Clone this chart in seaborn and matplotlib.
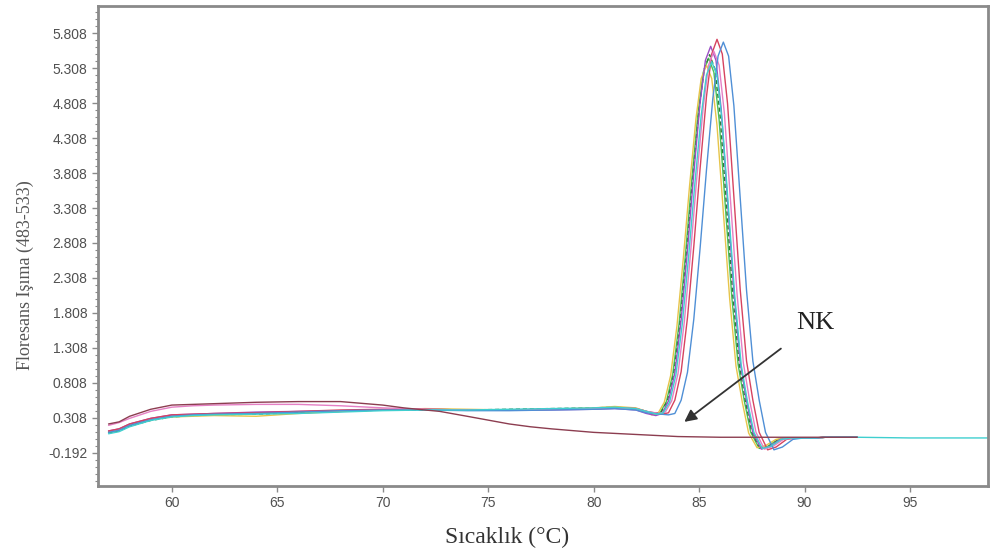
import matplotlib
matplotlib.use("Agg")
import matplotlib.pyplot as plt
from matplotlib.ticker import FixedLocator, AutoMinorLocator
import seaborn as sns
import pandas as pd

# ---------------- data ----------------
base_t = [57.0, 57.5, 58.0, 59.0, 60.0, 61.0, 62.0, 64.0, 66.0, 68.0, 70.0,
          72.0, 74.0, 76.0, 78.0, 80.0, 81.0, 82.0, 82.5]
tail_t = [90.5, 91.0, 92.0, 92.5]
tail_v = [0.02, 0.03, 0.03, 0.03]
tail_t_long = [90.5, 91.0, 92.0, 92.5, 95.0, 98.7]
tail_v_long = [0.02, 0.03, 0.03, 0.03, 0.02, 0.02]

s1_base = [0.10, 0.13, 0.20, 0.28, 0.33, 0.35, 0.36, 0.37, 0.38, 0.40, 0.42, 0.43, 0.42, 0.42, 0.43, 0.44, 0.45, 0.44, 0.40]
s1_pt = [82.85, 83.15, 83.45, 83.75, 84.05, 84.35, 84.65, 84.95, 85.2, 85.45, 85.7, 85.95, 86.25, 86.55, 86.85, 87.15, 87.45, 87.85, 88.25, 88.75, 89.25]
s1_pv = [0.36, 0.38, 0.54, 0.93, 1.65, 2.63, 3.70, 4.67, 5.25, 5.45, 5.25, 4.57, 3.31, 2.04, 1.07, 0.54, 0.10, -0.13, -0.10, 0.0, 0.02]

s2_base = [0.09, 0.12, 0.19, 0.27, 0.32, 0.34, 0.35, 0.36, 0.38, 0.40, 0.42, 0.42, 0.42, 0.43, 0.44, 0.45, 0.46, 0.44, 0.40]
s2_pt = [82.9, 83.2, 83.5, 83.8, 84.1, 84.4, 84.7, 85.0, 85.25, 85.5, 85.75, 86.0, 86.3, 86.6, 86.9, 87.2, 87.5, 87.9, 88.3, 88.8, 89.3]
s2_pv = [0.37, 0.39, 0.55, 0.94, 1.67, 2.65, 3.73, 4.71, 5.30, 5.50, 5.30, 4.62, 3.34, 2.06, 1.08, 0.54, 0.10, -0.14, -0.10, 0.0, 0.02]

s3_base = [0.11, 0.14, 0.21, 0.28, 0.32, 0.33, 0.34, 0.33, 0.37, 0.40, 0.42, 0.44, 0.43, 0.42, 0.43, 0.45, 0.47, 0.45, 0.40]
s3_pt = [82.75, 83.05, 83.35, 83.65, 83.95, 84.25, 84.55, 84.85, 85.1, 85.35, 85.6, 85.85, 86.15, 86.45, 86.75, 87.05, 87.35, 87.75, 88.15, 88.65, 89.15]
s3_pv = [0.35, 0.37, 0.53, 0.91, 1.62, 2.58, 3.63, 4.58, 5.16, 5.35, 5.16, 4.49, 3.25, 2.01, 1.05, 0.53, 0.09, -0.12, -0.09, 0.0, 0.02]

s4_base = [0.12, 0.15, 0.22, 0.30, 0.35, 0.36, 0.37, 0.39, 0.40, 0.41, 0.42, 0.43, 0.42, 0.42, 0.42, 0.43, 0.44, 0.42, 0.37]
s4_pt = [82.95, 83.25, 83.55, 83.85, 84.15, 84.45, 84.75, 85.05, 85.3, 85.55, 85.8, 86.05, 86.35, 86.65, 86.95, 87.25, 87.55, 87.95, 88.35, 88.85, 89.35]
s4_pv = [0.34, 0.37, 0.55, 0.95, 1.71, 2.71, 3.81, 4.82, 5.42, 5.62, 5.42, 4.72, 3.41, 2.11, 1.10, 0.55, 0.10, -0.14, -0.10, 0.0, 0.02]

s5_base = [0.12, 0.15, 0.22, 0.30, 0.35, 0.36, 0.37, 0.38, 0.40, 0.42, 0.43, 0.43, 0.42, 0.42, 0.43, 0.44, 0.45, 0.44, 0.40]
s5_pt = [83.25, 83.55, 83.85, 84.15, 84.45, 84.75, 85.05, 85.35, 85.6, 85.85, 86.1, 86.35, 86.65, 86.95, 87.25, 87.55, 87.85, 88.25, 88.65, 89.15, 89.65]
s5_pv = [0.36, 0.38, 0.56, 0.97, 1.74, 2.76, 3.88, 4.90, 5.51, 5.72, 5.51, 4.80, 3.47, 2.14, 1.12, 0.56, 0.10, -0.15, -0.11, 0.0, 0.02]

s6_base = [0.20, 0.24, 0.30, 0.40, 0.46, 0.48, 0.49, 0.50, 0.50, 0.48, 0.45, 0.43, 0.42, 0.42, 0.43, 0.44, 0.45, 0.44, 0.40]
s6_pt = [83.1, 83.4, 83.7, 84.0, 84.3, 84.6, 84.9, 85.2, 85.45, 85.7, 85.95, 86.2, 86.5, 86.8, 87.1, 87.4, 87.7, 88.1, 88.5, 89.0, 89.5]
s6_pv = [0.37, 0.39, 0.55, 0.94, 1.68, 2.68, 3.77, 4.76, 5.35, 5.55, 5.35, 4.66, 3.37, 2.08, 1.09, 0.55, 0.10, -0.14, -0.10, 0.0, 0.02]

s7_base = [0.10, 0.13, 0.20, 0.28, 0.33, 0.35, 0.36, 0.37, 0.39, 0.41, 0.42, 0.42, 0.41, 0.41, 0.42, 0.43, 0.44, 0.42, 0.38]
s7_pt = [83.55, 83.85, 84.15, 84.45, 84.75, 85.05, 85.35, 85.65, 85.9, 86.15, 86.4, 86.65, 86.95, 87.25, 87.55, 87.85, 88.15, 88.55, 88.95, 89.45, 89.95]
s7_pv = [0.35, 0.37, 0.56, 0.96, 1.72, 2.74, 3.85, 4.87, 5.48, 5.68, 5.48, 4.77, 3.45, 2.13, 1.12, 0.56, 0.10, -0.15, -0.11, 0.0, 0.02]

s8_base = [0.08, 0.11, 0.18, 0.27, 0.32, 0.34, 0.35, 0.36, 0.37, 0.39, 0.41, 0.42, 0.42, 0.43, 0.44, 0.45, 0.46, 0.44, 0.40]
s8_pt = [83.0, 83.3, 83.6, 83.9, 84.2, 84.5, 84.8, 85.1, 85.35, 85.6, 85.85, 86.1, 86.4, 86.7, 87.0, 87.3, 87.6, 88.0, 88.4, 88.9, 89.4]
s8_pv = [0.36, 0.38, 0.53, 0.92, 1.64, 2.60, 3.66, 4.63, 5.21, 5.40, 5.21, 4.53, 3.28, 2.02, 1.06, 0.53, 0.10, -0.13, -0.10, 0.0, 0.02]

nk_t = [57.0, 57.5, 58.0, 59.0, 60.0, 61.0, 62.0, 64.0, 66.0, 68.0, 70.0, 71.0, 72.0,
        72.7, 74.0, 76.0, 77.0, 78.0, 80.0, 82.0, 84.0, 86.0, 88.0, 90.0, 92.5]
nk_v = [0.22, 0.25, 0.33, 0.43, 0.49, 0.50, 0.51, 0.53, 0.54, 0.54, 0.49, 0.45, 0.42,
        0.40, 0.33, 0.22, 0.18, 0.15, 0.10, 0.07, 0.04, 0.03, 0.03, 0.03, 0.03]

sample_names = ["S1", "S2", "S3", "S4", "S5", "S6", "S7", "S8", "NK"]
sample_colors = ["#4cc25a", "#2f7d3b", "#e6c44a", "#9b4fc4", "#d6435f",
                 "#e57fc4", "#4f8fd6", "#3fcfcf", "#8c3d50"]

yticks = [-0.192, 0.308, 0.808, 1.308, 1.808, 2.308, 2.808, 3.308, 3.808,
          4.308, 4.808, 5.308, 5.808]
xticks = [60, 65, 70, 75, 80, 85, 90, 95]

# ---------------- build long table ----------------
curves = {
    "S1": (base_t + s1_pt + tail_t, s1_base + s1_pv + tail_v),
    "S2": (base_t + s2_pt + tail_t, s2_base + s2_pv + tail_v),
    "S3": (base_t + s3_pt + tail_t, s3_base + s3_pv + tail_v),
    "S4": (base_t + s4_pt + tail_t, s4_base + s4_pv + tail_v),
    "S5": (base_t + s5_pt + tail_t, s5_base + s5_pv + tail_v),
    "S6": (base_t + s6_pt + tail_t, s6_base + s6_pv + tail_v),
    "S7": (base_t + s7_pt + tail_t, s7_base + s7_pv + tail_v),
    "S8": (base_t + s8_pt + tail_t_long, s8_base + s8_pv + tail_v_long),
    "NK": (nk_t, nk_v),
}
rows = []
for name in sample_names:
    t, v = curves[name]
    for i, (a, b) in enumerate(zip(t, v)):
        rows.append({"sample": name, "temp": a, "fl": b, "order": i})
df = pd.DataFrame(rows)

# ---------------- plot ----------------
sns.set_style("white")
plt.rcParams["font.family"] = ["Liberation Sans", "DejaVu Sans"]

fig = plt.figure(figsize=(9.9, 5.54), dpi=100)
ax = fig.add_axes([0.099, 0.123, 0.899, 0.866])

sns.lineplot(data=df, x="temp", y="fl", hue="sample", hue_order=sample_names,
             palette=dict(zip(sample_names, sample_colors)), sort=False,
             estimator=None, units="sample", linewidth=1.0, legend=False, ax=ax)
# dashed look on the dark-green trace
for line in ax.get_lines():
    if line.get_color() == "#2f7d3b":
        line.set_dashes([3, 2])

ax.set_xlim(56.5, 98.7)
ax.set_ylim(-0.665, 6.195)
ax.yaxis.set_major_locator(FixedLocator(yticks))
ax.set_yticklabels([f"{v:.3f}" for v in yticks])
ax.yaxis.set_minor_locator(AutoMinorLocator(5))
ax.set_xticks(xticks)
ax.set_xticklabels([str(v) for v in xticks])

for sp in ax.spines.values():
    sp.set_color("#8a8a8a")
    sp.set_linewidth(2.0)
ax.tick_params(axis="both", which="major", length=4, width=1, color="#8a8a8a",
               labelcolor="#505050", labelsize=10, direction="out", left=True, bottom=True)
ax.tick_params(axis="y", which="minor", length=2, width=0.8, color="#8a8a8a", left=True)

ax.set_ylabel("Floresans Işıma (483-533)", family=["Liberation Serif", "DejaVu Serif"],
              fontsize=13, color="#555555", va="center")
ax.yaxis.set_label_coords(-0.082, 0.44)
ax.set_xlabel("Sıcaklık (°C)", family=["Liberation Serif", "DejaVu Serif"],
              fontsize=17, color="#333333", va="center")
ax.xaxis.set_label_coords(0.46, -0.108)

ax.annotate("NK", xy=(84.3, 0.25), xytext=(89.6, 1.67),
            family=["Liberation Serif", "DejaVu Serif"], fontsize=19, color="#222222",
            va="center", ha="left",
            arrowprops=dict(arrowstyle="-|>", color="#333333", lw=1.3,
                            mutation_scale=18, shrinkA=14, shrinkB=0))

fig.savefig("out.png", dpi=100)
